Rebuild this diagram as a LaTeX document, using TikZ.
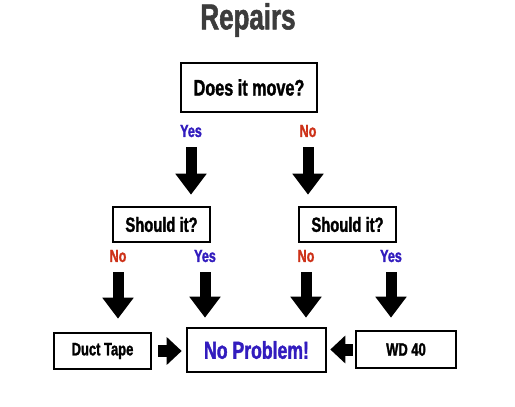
\documentclass[tikz,border=0pt]{standalone}
\usepackage{xcolor}
\usepackage{fontspec}
\usepackage{tikz}
\usetikzlibrary{arrows.meta, positioning}
\newfontfamily\impact[FakeStretch=0.72, FakeBold=1.5]{Liberation Sans}
\definecolor{yesblue}{RGB}{50,28,190}
\definecolor{nored}{RGB}{205,50,25}
\definecolor{titlegray}{RGB}{60,60,60}
\tikzstyle{box}    = [draw, line width=2.6pt, inner sep=2pt, font=\impact\bfseries\fontsize{18}{18}\selectfont]
\tikzstyle{lbl}    = [inner sep=1pt, font=\impact\bfseries\fontsize{17.5}{17.5}\selectfont]
\tikzstyle{blockarrow} = [line width=11pt, -{Triangle[length=21pt,width=30pt]}, shorten <=9pt, shorten >=11pt]
\tikzstyle{sidearrow}  = [line width=12pt, -{Triangle[length=15pt,width=27pt]}]

\begin{document}
\begin{tikzpicture}[x=1pt, y=1pt]
  \useasboundingbox (0,0) rectangle (515,-407);
  \node[font=\impact\bfseries\fontsize{36}{36}\selectfont, text=titlegray] (title) at (248,-20) {Repairs};
  % question boxes
  \node[box, minimum width=136pt, minimum height=49pt, font=\impact\bfseries\fontsize{22.5}{22.5}\selectfont] (move) at (249,-87.5) {Does it move?};
  \node[lbl, text=yesblue] (yesA) at (191,-131) {Yes};
  \node[lbl, text=nored] (noA) at (308,-131) {No};
  \node[box, minimum width=97pt, minimum height=35pt, font=\impact\bfseries\fontsize{20.5}{20.5}\selectfont] (shouldL) at (161.5,-224.5) {Should it?};
  \node[box, minimum width=97pt, minimum height=35pt, font=\impact\bfseries\fontsize{20.5}{20.5}\selectfont] (shouldR) at (347.5,-224.5) {Should it?};
  \node[lbl, text=nored] (noB) at (118,-256) {No};
  \node[lbl, text=yesblue] (yesB) at (205,-256) {Yes};
  \node[lbl, text=nored] (noC) at (306,-256) {No};
  \node[lbl, text=yesblue] (yesC) at (391,-256) {Yes};
  % answers
  \node[box, minimum width=97pt, minimum height=36pt] (duct) at (102.5,-351) {Duct Tape};
  \node[box, minimum width=139pt, minimum height=44pt, text=yesblue, font=\impact\bfseries\fontsize{24.5}{24.5}\selectfont] (fine) at (256.5,-350) {No Problem!};
  \node[box, minimum width=100pt, minimum height=37pt] (wd) at (406,-349.5) {WD 40};

  \draw[blockarrow] (yesA.south) -- (yesA.south |- shouldL.north);
  \draw[blockarrow] (noA.south) -- (noA.south |- shouldR.north);
  \draw[blockarrow, shorten >=13pt] (noB.south) -- (noB.south |- duct.north);
  \draw[blockarrow, shorten >=9pt] (yesB.south) -- (yesB.south |- fine.north);
  \draw[blockarrow, shorten >=9pt] (noC.south) -- (noC.south |- fine.north);
  \draw[blockarrow, shorten >=12pt] (yesC.south) -- (yesC.south |- wd.north);
  \draw[sidearrow, shorten <=6pt, shorten >=4pt] (duct.east) -- (duct.east -| fine.west);
  \draw[sidearrow, shorten <=2pt, shorten >=3pt] (wd.west) -- (wd.west -| fine.east);
\end{tikzpicture}
\end{document}
